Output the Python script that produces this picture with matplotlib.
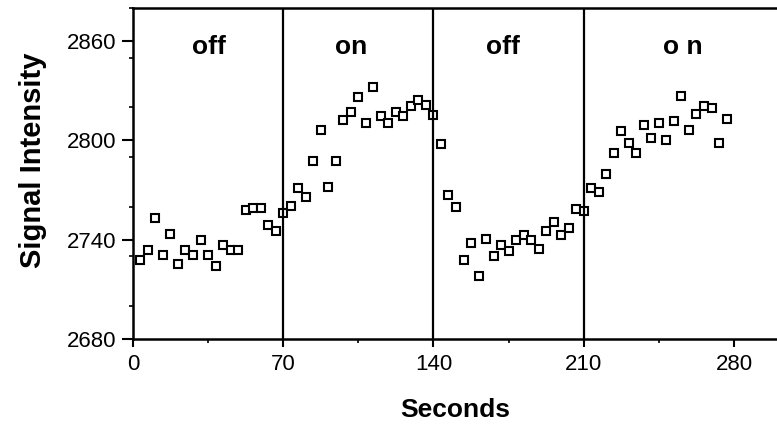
import matplotlib
matplotlib.use("Agg")
import matplotlib.pyplot as plt
from matplotlib.ticker import MultipleLocator

plt.rcParams["font.family"] = ["Liberation Sans", "DejaVu Sans"]

# sample times (s), one scan every 3.5 s
seconds = [
    3.5, 7, 10.5, 14, 17.5, 21, 24.5, 28, 31.5, 35,
    38.5, 42, 45.5, 49, 52.5, 56, 59.5, 63, 66.5, 70,
    73.5, 77, 80.5, 84, 87.5, 91, 94.5, 98, 101.5, 105,
    108.5, 112, 115.5, 119, 122.5, 126, 129.5, 133, 136.5, 140,
    143.5, 147, 150.5, 154, 157.5, 161, 164.5, 168, 171.5, 175,
    178.5, 182, 185.5, 189, 192.5, 196, 199.5, 203, 206.5, 210,
    213.5, 217, 220.5, 224, 227.5, 231, 234.5, 238, 241.5, 245,
    248.5, 252, 255.5, 259, 262.5, 266, 269.5, 273, 276.5,
]

signal = [
    2727.5, 2734.1, 2753.2, 2730.9, 2743.6, 2725.1, 2734.1, 2730.9, 2740.0, 2731.1,
    2723.9, 2737.1, 2734.1, 2734.1, 2758.0, 2759.2, 2759.2, 2749.2, 2745.6, 2756.2,
    2760.6, 2771.0, 2766.0, 2787.6, 2806.3, 2771.6, 2787.6, 2812.1, 2817.3, 2826.3,
    2810.3, 2832.1, 2814.7, 2810.7, 2817.1, 2814.7, 2820.7, 2824.3, 2821.7, 2815.7,
    2798.0, 2767.2, 2759.6, 2727.9, 2737.9, 2717.9, 2740.6, 2730.1, 2737.1, 2733.1,
    2740.1, 2743.0, 2740.1, 2734.5, 2745.5, 2751.0, 2743.0, 2747.2, 2758.6, 2757.6,
    2771.0, 2768.6, 2779.6, 2792.6, 2805.7, 2798.3, 2792.6, 2809.3, 2801.3, 2810.3,
    2800.3, 2811.7, 2826.7, 2806.1, 2816.3, 2820.7, 2819.7, 2798.3, 2812.7,
]

block_edges = [70, 140, 210]
block_labels = ["off", "on", "off", "o n"]
label_x = [35.2, 101.7, 172.3, 256]

fig = plt.figure(figsize=(7.77, 4.26), dpi=100)
ax = fig.add_axes([0.171, 0.204, 0.829, 0.777])

ax.plot(seconds, signal, linestyle="none", marker="s", markersize=5.8,
        markerfacecolor="white", markeredgecolor="black", markeredgewidth=1.5)

for x in block_edges:
    ax.axvline(x, color="black", linewidth=1.6)

for x, lab in zip(label_x, block_labels):
    ax.text(x, 2852, lab, ha="center", va="baseline", fontsize=19,
            fontweight="bold")

ax.set_xlim(0, 300)
ax.set_ylim(2680, 2880)
ax.set_xticks([0, 70, 140, 210, 280])
ax.set_yticks([2680, 2740, 2800, 2860])
ax.xaxis.set_minor_locator(MultipleLocator(35))
ax.yaxis.set_minor_locator(MultipleLocator(30))
ax.tick_params(which="major", direction="out", length=6, width=1.5,
               labelsize=16, pad=5)
ax.tick_params(which="minor", direction="out", length=3, width=1.2)
ax.tick_params(axis="y", which="major", length=8, pad=4)

for side in ["left", "bottom", "top"]:
    ax.spines[side].set_linewidth(1.8)
ax.spines["right"].set_visible(False)

ax.set_xlabel("Seconds", fontsize=19, fontweight="bold", labelpad=16)
ax.set_ylabel("Signal Intensity", fontsize=21, fontweight="bold")
ax.yaxis.set_label_coords(-0.133, 0.54)

fig.savefig("out.png", dpi=100)
